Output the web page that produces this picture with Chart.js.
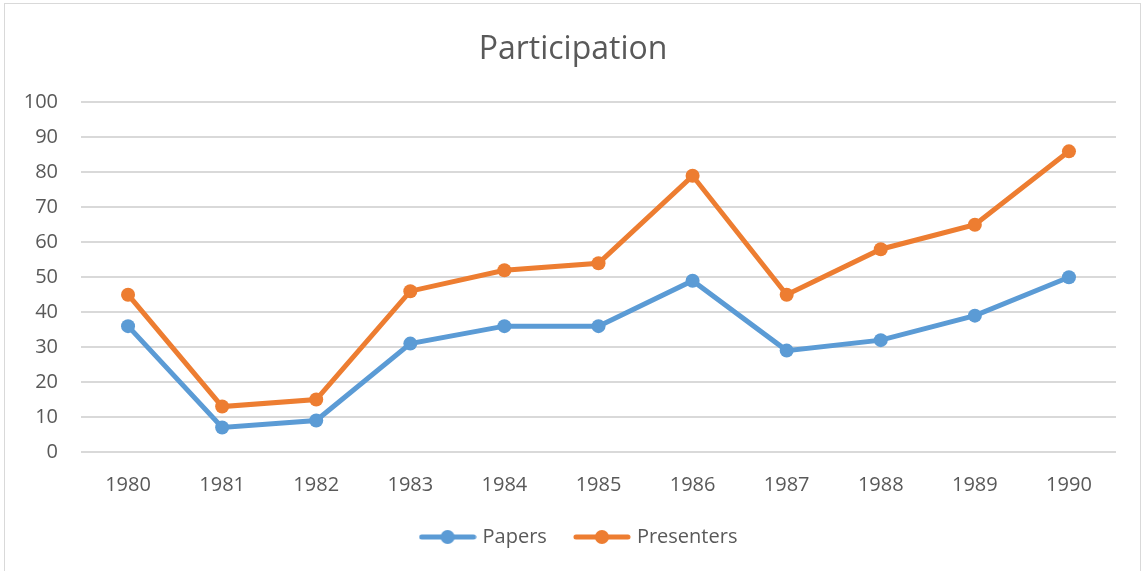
<!DOCTYPE html>
<html>
<head>
<meta charset="utf-8">
<script src="https://cdn.jsdelivr.net/npm/chart.js@4.4.1/dist/chart.umd.min.js"></script>
<style>
    html, body { margin: 0; padding: 0; background: #fff; }
    #frame {
        position: absolute; left: 4px; top: 3px; width: 1137px; height: 570px;
        border: 1px solid #d9d9d9; border-bottom: none; box-sizing: border-box;
    }
    #wrap { position: absolute; left: 0; top: 0; width: 1146px; height: 571px; }
</style>
</head>
<body>
<div id="frame"></div>
<div id="wrap"><canvas id="participationChart"></canvas></div>
<script>
// Participation data
const years = ['1980', '1981', '1982', '1983', '1984', '1985', '1986', '1987', '1988', '1989', '1990'];
const papers = [36, 7, 9, 31, 36, 36, 49, 29, 32, 39, 50];
const presenters = [45, 13, 15, 46, 52, 54, 79, 45, 58, 65, 86];
const yTicks = [0, 10, 20, 30, 40, 50, 60, 70, 80, 90, 100];

const blue = '#5b9bd5';
const orange = '#ed7d31';
const textColor = '#595959';
const gridColor = '#d9d9d9';

// legend marker: line with a dot in the middle
function legendMarker(color) {
    const c = document.createElement('canvas');
    c.width = 58;
    c.height = 16;
    const ctx = c.getContext('2d');
    ctx.strokeStyle = color;
    ctx.lineWidth = 5;
    ctx.lineCap = 'round';
    ctx.beginPath();
    ctx.moveTo(3, 8);
    ctx.lineTo(55, 8);
    ctx.stroke();
    ctx.fillStyle = color;
    ctx.beginPath();
    ctx.arc(29, 8, 7, 0, Math.PI * 2);
    ctx.fill();
    return c;
}

// title and legend are centred on the whole frame, not on the padded area
const shiftBlocks = {
    id: 'shiftBlocks',
    afterLayout: function(chart) {
        if (chart.titleBlock) {
            chart.titleBlock.left += 15;
            chart.titleBlock.right += 15;
        }
        if (chart.legend) {
            chart.legend.left += 22;
            chart.legend.right += 22;
        }
    }
};

document.addEventListener('DOMContentLoaded', function() {
    const ctx = document.getElementById('participationChart');
    new Chart(ctx, {
        type: 'line',
        data: {
            labels: years,
            datasets: [
                {
                    label: 'Papers',
                    data: papers,
                    borderColor: blue,
                    backgroundColor: blue,
                    borderWidth: 5,
                    pointRadius: 7,
                    pointBorderWidth: 0,
                    pointStyle: 'circle',
                    tension: 0
                },
                {
                    label: 'Presenters',
                    data: presenters,
                    borderColor: orange,
                    backgroundColor: orange,
                    borderWidth: 5,
                    pointRadius: 7,
                    pointBorderWidth: 0,
                    pointStyle: 'circle',
                    tension: 0
                }
            ]
        },
        plugins: [shiftBlocks],
        options: {
            responsive: true,
            maintainAspectRatio: false,
            animation: false,
            layout: { padding: { left: 0, right: 30, top: 0, bottom: 14 } },
            plugins: {
                title: {
                    display: true,
                    text: 'Participation',
                    color: textColor,
                    font: { family: 'Open Sans', size: 32, weight: 'normal' },
                    padding: { top: 31, bottom: 33 }
                },
                legend: {
                    position: 'bottom',
                    labels: {
                        color: textColor,
                        font: { family: 'Open Sans', size: 20 },
                        usePointStyle: true,
                        pointStyleWidth: 50,
                        padding: 30,
                        generateLabels: function(chart) {
                            return chart.data.datasets.map(function(ds, i) {
                                return {
                                    text: ds.label,
                                    pointStyle: legendMarker(ds.borderColor),
                                    fillStyle: ds.borderColor,
                                    strokeStyle: ds.borderColor,
                                    lineWidth: 0,
                                    fontColor: textColor,
                                    datasetIndex: i
                                };
                            });
                        }
                    }
                },
                tooltip: { enabled: false }
            },
            scales: {
                x: {
                    offset: true,
                    grid: { display: false, drawTicks: false },
                    border: { display: false },
                    ticks: {
                        color: textColor,
                        font: { family: 'Open Sans', size: 20 },
                        padding: 21,
                        maxRotation: 0
                    },
                    afterFit: function(s) { s.height = 45; }
                },
                y: {
                    min: 0,
                    max: 100,
                    afterBuildTicks: function(s) {
                        s.ticks = yTicks.map(function(v) { return { value: v }; });
                    },
                    grid: { color: gridColor, lineWidth: 2, drawTicks: false },
                    border: { display: false },
                    ticks: {
                        color: textColor,
                        font: { family: 'Open Sans', size: 20 },
                        padding: 23
                    },
                    afterFit: function(s) { s.width = 81; }
                }
            }
        }
    });
});
</script>
</body>
</html>
